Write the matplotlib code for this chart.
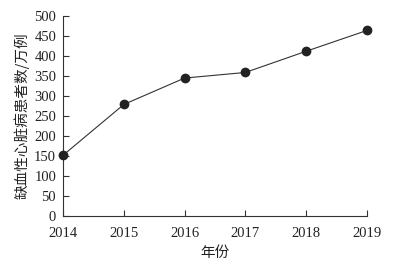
import matplotlib
matplotlib.use("Agg")
import matplotlib.pyplot as plt

years = [2014, 2015, 2016, 2017, 2018, 2019]
patients = [152, 279, 345, 359, 412, 464]
yticks = list(range(0, 501, 50))

serif = ['Liberation Serif', 'DejaVu Serif']
cjk = ['Noto Sans CJK SC', 'DejaVu Sans']

fig = plt.figure(figsize=(4.15, 2.68), dpi=100)
ax = fig.add_axes([0.152, 0.194, 0.732, 0.746])
ax.plot(years, patients, color='#333333', lw=0.8, marker='o', ms=6,
        mfc='#222222', mec='#222222', clip_on=False, zorder=3)
ax.set_xlim(2014, 2019)
ax.set_ylim(0, 500)
ax.set_xticks(years)
ax.set_yticks(yticks)
for s in ['top', 'right']:
    ax.spines[s].set_visible(False)
for s in ['left', 'bottom']:
    ax.spines[s].set_color('#333333')
    ax.spines[s].set_linewidth(0.8)
ax.tick_params(direction='in', length=4, width=0.8, color='#333333', labelsize=10.5)
ax.tick_params(axis='x', pad=8)
ax.tick_params(axis='y', pad=5)
for lab in ax.get_xticklabels() + ax.get_yticklabels():
    lab.set_fontfamily(serif)
    lab.set_color('#222222')
ax.set_xlabel('年份', family=cjk, fontsize=10.5, color='#222222', labelpad=4)
ax.set_ylabel('缺血性心脏病患者数/万例', family=cjk, fontsize=10.5, color='#222222', labelpad=3)
fig.savefig('out.png', dpi=100)
